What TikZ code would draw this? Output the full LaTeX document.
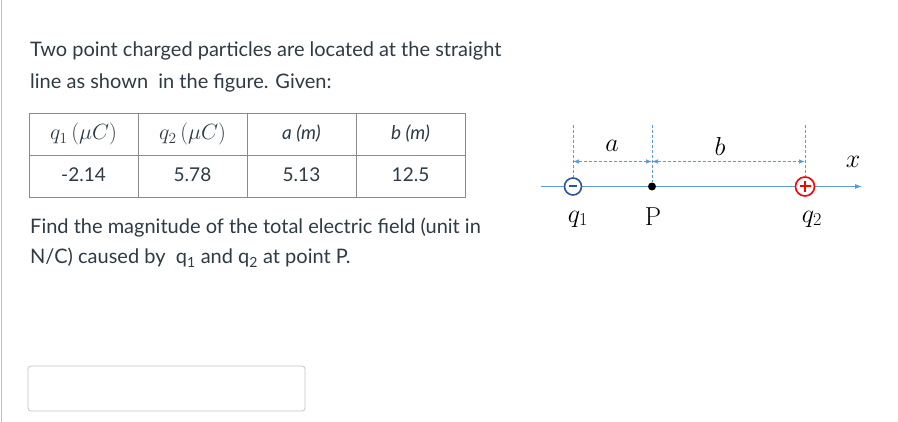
\RequirePackage{fix-cm}
\documentclass[tikz,border=0pt]{standalone}
\usepackage{fontspec}
\setmainfont{Lato}
\newfontfamily\lmr{Latin Modern Roman}
\usetikzlibrary{arrows.meta}
\definecolor{axisblue}{HTML}{5B9BD5}
\definecolor{qblue}{HTML}{2F5597}
\definecolor{qred}{HTML}{FF0000}
\definecolor{txt}{HTML}{2D3B45}
\definecolor{tabline}{HTML}{8A8A8A}
\begin{document}
\begin{tikzpicture}[x=1pt,y=-1pt,
  body/.style={inner sep=0pt,anchor=base west,text=txt,font=\fontsize{20}{24}\selectfont},
  cell/.style={inner sep=0pt,anchor=base,text=txt,font=\fontsize{19}{22}\selectfont},
  mcell/.style={inner sep=0pt,anchor=base,text=txt,font=\fontsize{22}{26}\selectfont},
  dimline/.style={axisblue,densely dashed,line width=0.7pt},
  lbl/.style={inner sep=0pt,font=\fontsize{26}{30}\selectfont}]
\useasboundingbox (0,0) rectangle (898,422);
\fill[white] (0,0) rectangle (898,422);
\draw[gray!50,line width=1pt] (1.5,0) -- (1.5,422);
% text
\node[body] (t1) at (30,57) {Two point charged particles are located at the straight};
\node[body] (t2) at (30,89) {line as shown\ \ in the figure. Given:};
% table
\draw[tabline,line width=0.8pt] (29,113) rectangle (465,197);
\draw[tabline,line width=0.8pt] (29,155) -- (465,155);
\foreach \xx in {138,247,356} \draw[tabline,line width=0.8pt] (\xx,113) -- (\xx,197);
\node[mcell] (h1) at (83.5,140) {$q_1\,(\mu C)$};
\node[mcell] (h2) at (192.5,140) {$q_2\,(\mu C)$};
\node[cell] (h3) at (301.5,140) {\itshape a (m)};
\node[cell] (h4) at (410.5,140) {\itshape b (m)};
\node[cell] (v1) at (83.5,182) {-2.14};
\node[cell] (v2) at (192.5,182) {5.78};
\node[cell] (v3) at (301.5,182) {5.13};
\node[cell] (v4) at (410.5,182) {12.5};
\node[body] (t3) at (30,234) {Find the magnitude of the total electric field (unit in};
\node[body] (t4) at (30,264) {N/C) caused by\ \ q\textsubscript{1} and q\textsubscript{2} at point P.};
% input box
\draw[gray!45,line width=0.8pt,rounded corners=3pt] (28,366) rectangle (305,411);
% figure
\coordinate (axs) at (541,186.5);
\coordinate (axe) at (862,186.5);
\draw[axisblue,line width=0.9pt,-{Latex[length=7pt,width=5pt]}] (axs) -- (axe);
\node[circle,draw=qblue,fill=white,line width=1.6pt,minimum size=17pt,inner sep=0pt] (q1) at (573,186.5) {};
\draw[qblue,line width=2pt] (569,186.5) -- (577,186.5);
\node[circle,fill=black,minimum size=8pt,inner sep=0pt] (P) at (652,186.5) {};
\node[circle,draw=qred,fill=white,line width=1.6pt,minimum size=19pt,inner sep=0pt] (q2) at (805,186.5) {};
\draw[qred,line width=2pt] (799.5,186.5) -- (810.5,186.5) (805,181) -- (805,192);
\coordinate (d1) at (573,125);
\coordinate (d2) at (652,125);
\coordinate (d3) at (805,125);
\draw[dimline] (d1) -- (q1.north);
\draw[dimline] (d2) -- (P.north);
\draw[dimline] (d3) -- (q2.north);
\coordinate (m1) at (573,161.5);
\coordinate (m2) at (652,161.5);
\coordinate (m3) at (805,161.5);
\draw[dimline,{Latex[length=6pt,width=4.5pt]}-{Latex[length=6pt,width=4.5pt]}] (m1) -- (m2);
\draw[dimline,{Latex[length=6pt,width=4.5pt]}-{Latex[length=6pt,width=4.5pt]}] (m2) -- (m3);
\node[lbl] (la) at (612,146) {$a$};
\node[lbl] (lb) at (720,146) {$b$};
\node[lbl] (lx) at (853,162) {$x$};
\node[lbl] (lq1) at (578,219) {$q_1$};
\node[lbl] (lP) at (653,217) {\lmr P};
\node[lbl] (lq2) at (812,219) {$q_2$};
\end{tikzpicture}
\end{document}
